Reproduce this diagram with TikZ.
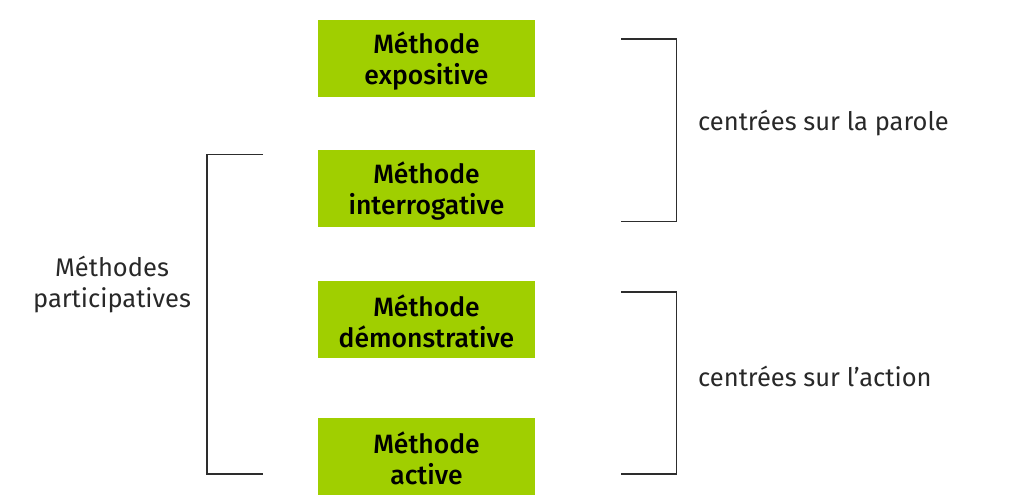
\documentclass[tikz,border=0pt]{standalone}
\usepackage{fontspec}
\setmainfont{Fira Sans}
\newfontfamily\boxfont{Fira Sans Medium}
\definecolor{boxgreen}{RGB}{160,207,0}
\definecolor{ink}{RGB}{40,40,40}
\definecolor{linegray}{RGB}{45,45,45}
\newcommand{\topstrut}{\rule{0pt}{26bp}}
\begin{document}
\begin{tikzpicture}[x=1bp,y=-1bp,
  methbox/.style={fill=boxgreen,minimum width=217bp,minimum height=77bp,inner sep=0pt,align=center,
    font=\boxfont\fontsize{26.5bp}{31bp}\selectfont,text=black},
  lbl/.style={font=\fontsize{25.5bp}{31bp}\selectfont,text=ink,inner sep=0pt,align=center},
  brk/.style={draw=linegray,line width=1.8bp}]
\useasboundingbox (0,0) rectangle (1015,499);
\node[methbox] (m1) at (426.5,58.5) {\topstrut Méthode\\expositive};
\node[methbox] (m2) at (426.5,188.5) {\topstrut Méthode\\interrogative};
\node[methbox] (m3) at (426.5,319.5) {\topstrut Méthode\\démonstrative};
\node[methbox] (m4) at (426.5,456.5) {\topstrut Méthode\\active};
\coordinate (r1a) at (621,39);
\coordinate (r1b) at (621,221.5);
\coordinate (r2a) at (621,292);
\coordinate (r2b) at (621,474);
\coordinate (la) at (263,154.5);
\coordinate (lb) at (263,474);
\draw[brk] (r1a) -| (676.5,130) |- (r1b);
\draw[brk] (r2a) -| (676.5,383) |- (r2b);
\draw[brk] (la) -| (207,314) |- (lb);
\node[lbl,anchor=west] (p) at (698,123) {centrées sur la parole};
\node[lbl,anchor=west] (a) at (698,376) {centrées sur l’action};
\node[lbl] (mp) at (112,285) {Méthodes\\participatives};
\end{tikzpicture}
\end{document}
